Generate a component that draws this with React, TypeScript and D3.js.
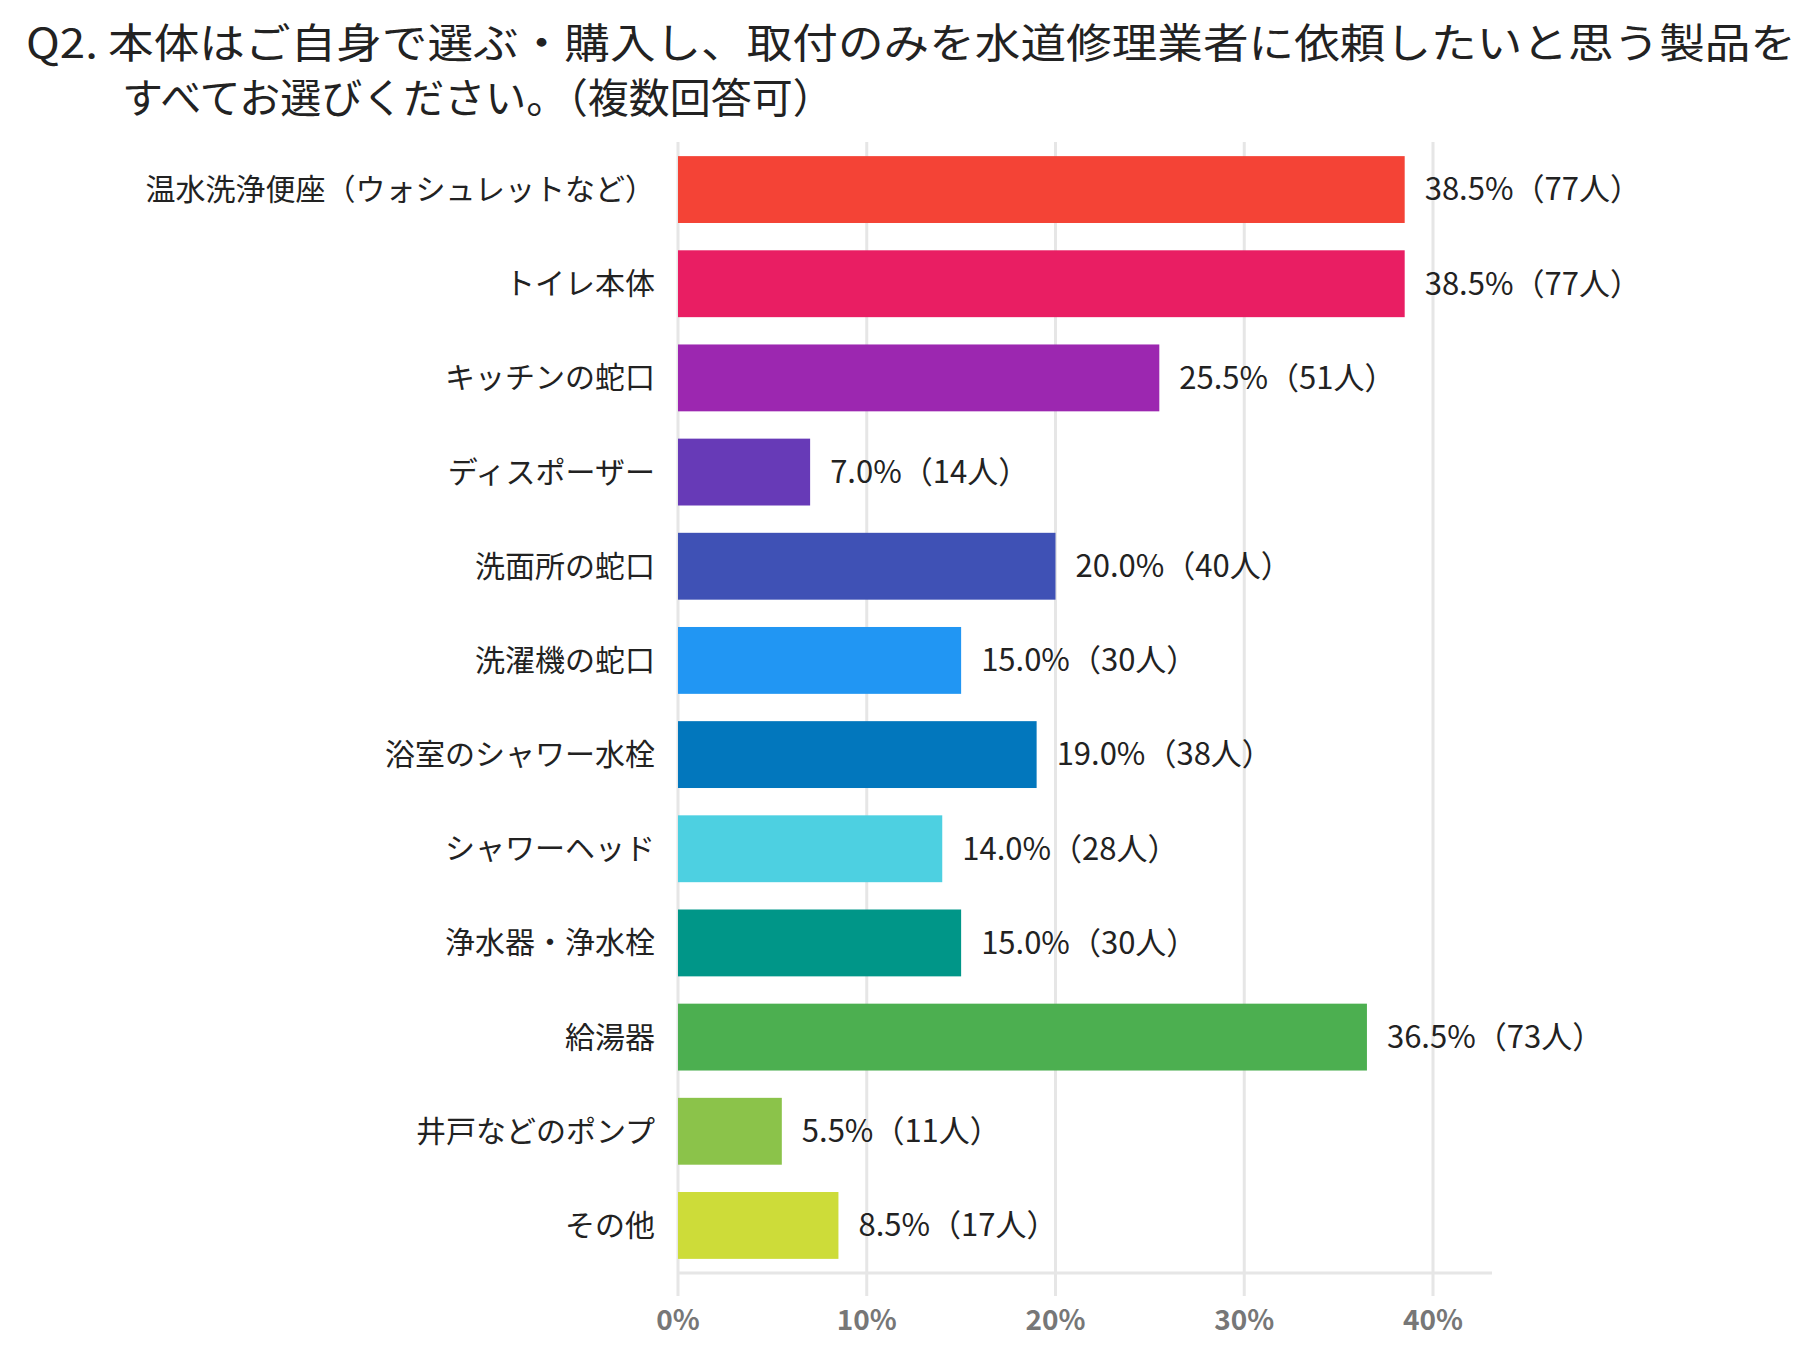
import React from "react";
import * as d3 from "d3";

const categories = ["温水洗浄便座（ウォシュレットなど）","トイレ本体","キッチンの蛇口","ディスポーザー","洗面所の蛇口","洗濯機の蛇口","浴室のシャワー水栓","シャワーヘッド","浄水器・浄水栓","給湯器","井戸などのポンプ","その他"];
const percents = [38.5,38.5,25.5,7.0,20.0,15.0,19.0,14.0,15.0,36.5,5.5,8.5];
const counts = [77,77,51,14,40,30,38,28,30,73,11,17];
const colors = ["#f44336","#e91e63","#9c27b0","#673ab7","#3f51b5","#2196f3","#0277bd","#4dd0e1","#009688","#4caf50","#8bc34a","#cddc39"];
const ticks = [0,10,20,30,40];

export default function App() {
  const W = 1818, H = 1350;
  const x = d3.scaleLinear().domain([0, 40]).range([678, 1433]);
  const y = d3.scaleBand().domain(categories).range([142, 1273]).paddingInner(0.29).paddingOuter(0.15);
  const font = "'Noto Sans CJK JP', sans-serif";
  return (
    <svg width={W} height={H} style={{ position: "absolute", left: 0, top: 0, background: "#fff" }} fontFamily={font}>
      <text x={26} y={58} fontSize={41} fill="#222" textLength={1770} lengthAdjust="spacingAndGlyphs">Q2. 本体はご自身で選ぶ・購入し、取付のみを水道修理業者に依頼したいと思う製品を</text>
      <text x={122} y={113} fontSize={41} fill="#222">すべてお選びください。（複数回答可）</text>
      {ticks.map(t => (
        <g key={t}>
          <line x1={x(t)} x2={x(t)} y1={142} y2={1296} stroke="#e6e6e6" strokeWidth={3} />
          <text x={x(t)} y={1330} textAnchor="middle" fontSize={28} fontWeight="bold" fill="#777">{t}%</text>
        </g>
      ))}
      <line x1={678} x2={1492} y1={1273} y2={1273} stroke="#e6e6e6" strokeWidth={3} />
      {categories.map((c, i) => {
        const yy = y(c)!;
        const bh = y.bandwidth();
        return (
          <g key={c}>
            <rect x={x(0)} y={yy} width={x(percents[i]) - x(0)} height={bh} fill={colors[i]} />
            <text x={655} y={yy + bh / 2} dy="0.35em" textAnchor="end" fontSize={30} fill="#222">{c}</text>
            <text x={x(percents[i]) + 20} y={yy + bh / 2} dy="0.35em" fontSize={31} fill="#222">{percents[i].toFixed(1)}%（{counts[i]}人）</text>
          </g>
        );
      })}
    </svg>
  );
}
